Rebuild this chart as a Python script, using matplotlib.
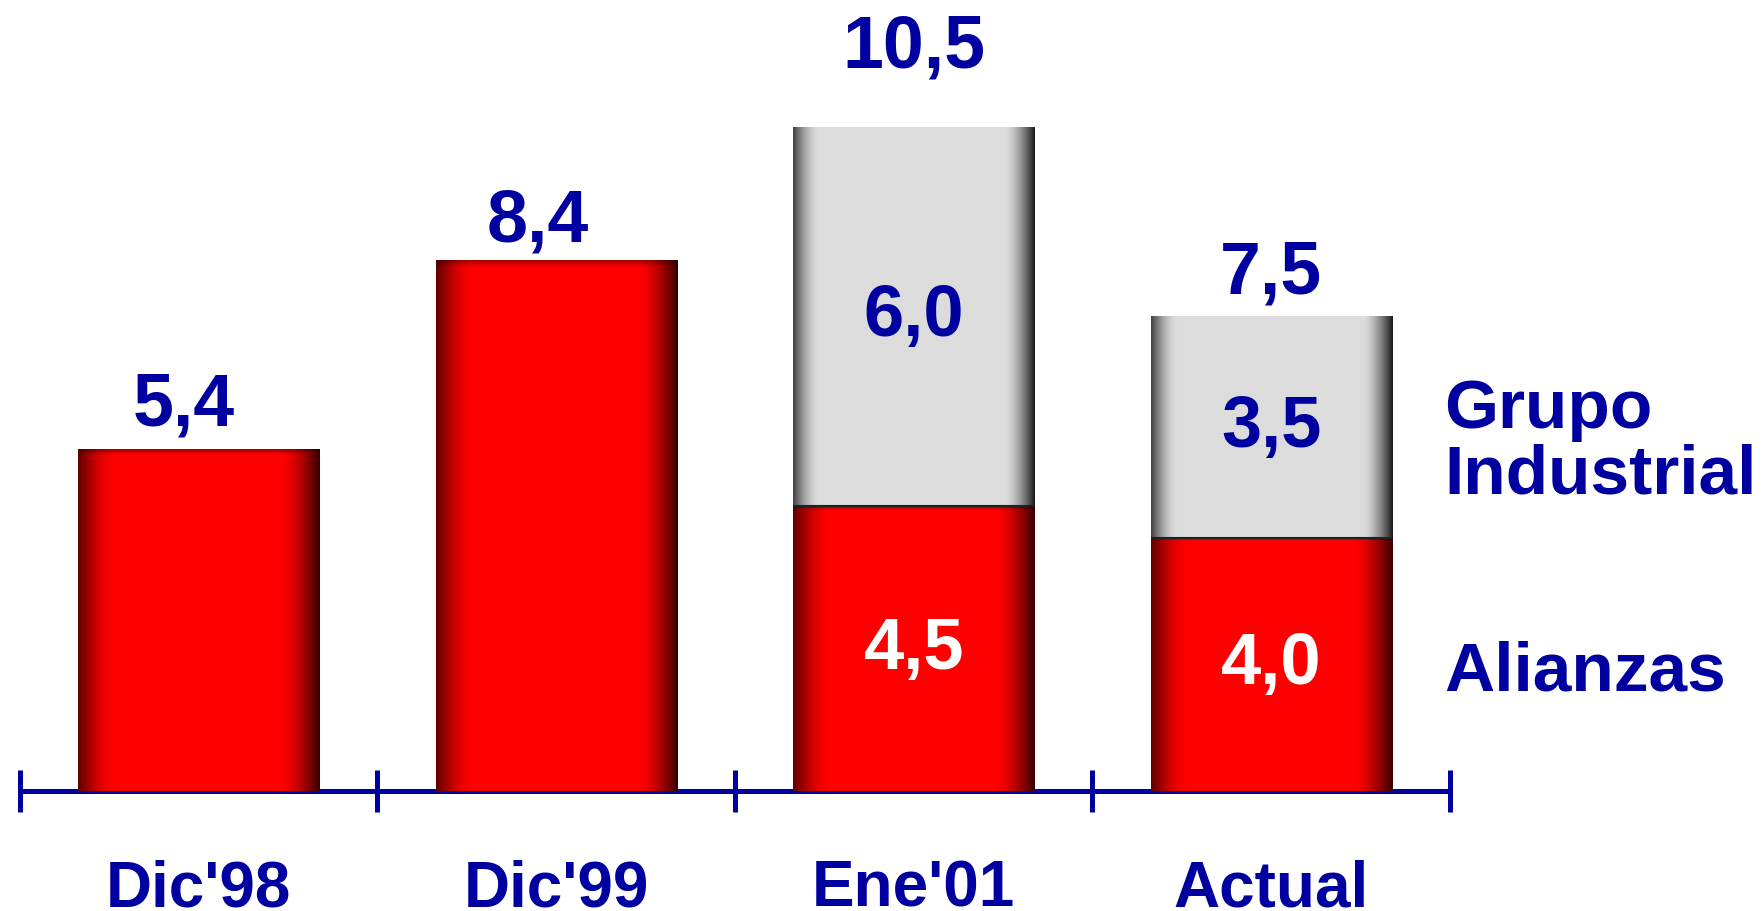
import matplotlib.pyplot as plt
import numpy as np

# datos (miles de millones)
categorias = ["Dic'98", "Dic'99", "Ene'01", "Actual"]
alianzas = [5.4, 8.4, 4.5, 4.0]
grupo_industrial = [0.0, 0.0, 6.0, 3.5]
totales = [5.4, 8.4, 10.5, 7.5]
etiq_totales = ["5,4", "8,4", "10,5", "7,5"]
etiq_alianzas = ["", "", "4,5", "4,0"]
etiq_grupo = ["", "", "6,0", "3,5"]

AZUL = (0, 0, 160 / 255)
plt.rcParams['font.family'] = ['Liberation Sans', 'DejaVu Sans']
plt.rcParams['font.weight'] = 'bold'

fig = plt.figure(figsize=(17.65, 9.12), dpi=100)
ax = fig.add_axes([20 / 1765, 120 / 912, 1430 / 1765, 696 / 912])

x = np.arange(len(categorias))
ancho = 0.675


def perfil(u, izq_osc, izq_fin, der_ini, der_osc):
    # factor de brillo a lo ancho de la barra
    f = np.ones_like(u)
    m = u < izq_fin
    f[m] = izq_osc + (1 - izq_osc) * np.sin(u[m] / izq_fin * np.pi / 2)
    m = u > der_ini
    t = (u[m] - der_ini) / (1 - der_ini)
    f[m] = 1 - (1 - der_osc) * t ** 1.5
    return f


def degradado(base, tipo):
    u = np.linspace(0, 1, 300)
    v = np.linspace(0, 1, 200)
    if tipo == 'rojo':
        fh = perfil(u, 0.38, 0.16, 0.84, 0.22)
    else:
        fh = perfil(u, 0.3, 0.11, 0.88, 0.12)
    img = np.ones((len(v), len(u), 3)) * np.array(base)
    img *= fh[None, :, None]
    if tipo == 'rojo':
        fv = 1 - 0.35 * np.clip(1 - v / 0.012, 0, 1)
        img *= fv[:, None, None]
    return np.clip(img, 0, 1)


def sombrear(barras, base, tipo):
    img = degradado(base, tipo)
    for b in barras:
        if b.get_height() <= 0:
            continue
        x0, y0 = b.get_x(), b.get_y()
        im = ax.imshow(img, extent=(x0, x0 + b.get_width(), y0, y0 + b.get_height()),
                       aspect='auto', zorder=3, interpolation='bilinear')
        im.set_clip_path(b)


b_rojo = ax.bar(x, alianzas, ancho, color='#ff0000', zorder=2)
b_gris = ax.bar(x, grupo_industrial, ancho, bottom=alianzas, color='#dcdcdc', zorder=2)
sombrear(b_rojo, (1.0, 0.0, 0.0), 'rojo')
sombrear(b_gris, (0.863, 0.863, 0.863), 'gris')

# linea entre segmentos
for i, g in enumerate(grupo_industrial):
    if g > 0:
        ax.plot([x[i] - ancho / 2, x[i] + ancho / 2], [alianzas[i], alianzas[i]],
                color='#202020', lw=1.5, zorder=4, solid_capstyle='butt')

ax.set_xlim(-0.5, 3.5)
ax.set_ylim(0, 11)

# etiquetas de totales
dx = [-11, -13, 0, 0]
dy = [18, 14, 43, 17]
for i, t in enumerate(totales):
    ax.annotate(etiq_totales[i], (x[i], t), xytext=(dx[i], dy[i]), textcoords='offset points',
                ha='center', va='baseline', fontsize=53, color=AZUL, fontweight='bold')

# etiquetas de segmentos
for i in range(len(x)):
    if etiq_alianzas[i]:
        ax.text(x[i], alianzas[i] / 2, etiq_alianzas[i], ha='center', va='center',
                fontsize=52, color='white', fontweight='bold', zorder=5)
    if etiq_grupo[i]:
        ax.text(x[i], alianzas[i] + grupo_industrial[i] / 2, etiq_grupo[i], ha='center',
                va='center', fontsize=52, color=AZUL, fontweight='bold', zorder=5)

# etiquetas de categorias
for i, c in enumerate(categorias):
    ax.annotate(c, (x[i], 0), xytext=(0, -82.5),
                textcoords='offset points', ha='center', va='baseline',
                fontsize=46, color=AZUL, fontweight='bold', annotation_clip=False)

# leyenda como texto a la derecha
ax.text(3.483, 5.52, "Grupo\nIndustrial", ha='left',
        va='center', fontsize=50, color=AZUL, fontweight='bold', linespacing=1.02)
ax.text(3.483, alianzas[3] / 2 - 0.11, "Alianzas", ha='left', va='center',
        fontsize=50, color=AZUL, fontweight='bold')

# eje
for s in ['top', 'right', 'left']:
    ax.spines[s].set_visible(False)
ax.spines['bottom'].set_color(AZUL)
ax.spines['bottom'].set_linewidth(3.6)
ax.spines['bottom'].set_capstyle('round')
ax.set_yticks([])
ax.set_xticks([])
ax.set_xticks(np.arange(-0.5, 4.0, 1.0), minor=True)
ax.tick_params(axis='x', which='minor', direction='inout', length=30, width=3.6,
               color=AZUL, labelbottom=False)
ax.patch.set_visible(False)

fig.savefig('out.png', dpi=100)
